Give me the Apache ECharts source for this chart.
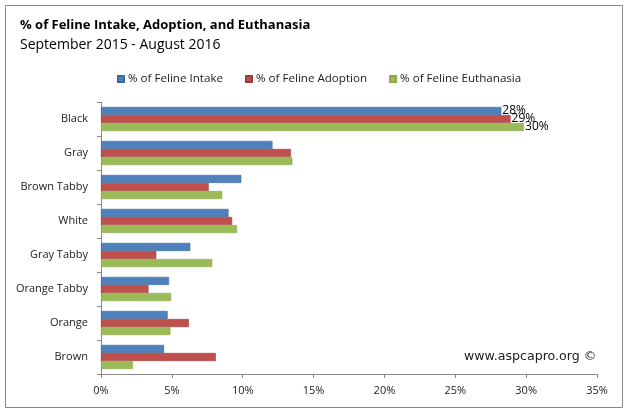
<!DOCTYPE html>
<html><head><meta charset="utf-8">
<script src="https://cdn.jsdelivr.net/npm/echarts@6/dist/echarts.min.js"></script>
<style>html,body{margin:0;padding:0;background:#fff}#c{width:630px;height:413px}</style>
</head><body><div id="c"></div>
<script>
const categories = ["Black","Gray","Brown Tabby","White","Gray Tabby","Orange Tabby","Orange","Brown"];
const seriesNames = ["% of Feline Intake","% of Feline Adoption","% of Feline Euthanasia"];
const intake = [28.25, 12.1, 9.9, 9.0, 6.3, 4.8, 4.7, 4.45];
const adoption = [28.9, 13.4, 7.6, 9.25, 3.9, 3.35, 6.2, 8.1];
const euthanasia = [29.85, 13.5, 8.55, 9.6, 7.85, 4.95, 4.9, 2.25];
const xTicks = [0,5,10,15,20,25,30,35];
const labeledCategory = "Black";

const colors = ["#4F81BD","#C0504D","#9BBB59"];
const borders = ["#3d6a9e","#9e3b38","#8aa94c"];
const font = "'Open Sans', 'Noto Sans', sans-serif";
const chart = echarts.init(document.getElementById('c'), null, {renderer:'canvas'});

function mk(name, vals, i){
  return {
    name, type:'bar', barGap:'0%', barCategoryGap:'29%',
    itemStyle:{color:colors[i], borderColor:borders[i], borderWidth:0.6},
    data: vals.map((v,j)=>({value:v, label:{show: categories[j]===labeledCategory}})),
    label:{position:'right', distance:1, color:'#000', fontFamily:font, fontSize:12,
      formatter:p=>Math.round(p.value)+'%'}
  };
}

chart.setOption({
  animation:false,
  title:[
    {text:"% of Feline Intake, Adoption, and Euthanasia", left:15, top:14,
      textStyle:{fontFamily:font, fontSize:13, fontWeight:'bold', color:'#000'}},
    {text:"September 2015 - August 2016", left:15, top:33,
      textStyle:{fontFamily:font, fontSize:14, fontWeight:'normal', color:'#000'}}
  ],
  legend:{
    data:seriesNames, top:68, left:112, itemWidth:6, itemHeight:6, itemGap:22,
    icon:'rect',
    textStyle:{fontFamily:font, fontSize:11.6, color:'#222', padding:[0,0,0,-1]}
  },
  grid:{left:101, right:33, top:102, bottom:39, containLabel:false},
  xAxis:{
    type:'value', min:0, max:35, interval:5,
    axisLine:{show:true, lineStyle:{color:'#888'}},
    axisTick:{show:true, length:4, inside:false, lineStyle:{color:'#888'}},
    splitLine:{show:false},
    axisLabel:{formatter:'{value}%', fontFamily:font, fontSize:11, color:'#222', margin:11,
      customValues: xTicks}
  },
  yAxis:{
    type:'category', data:categories, inverse:true,
    axisLine:{show:true, lineStyle:{color:'#888'}},
    axisTick:{show:true, length:4, lineStyle:{color:'#888'}},
    axisLabel:{fontFamily:font, fontSize:11, color:'#222', margin:13}
  },
  series:[mk(seriesNames[0],intake,0), mk(seriesNames[1],adoption,1), mk(seriesNames[2],euthanasia,2)],
  graphic:[
    {type:'rect', shape:{x:5.5,y:5.5,width:617,height:402}, style:{fill:null, stroke:'#888', lineWidth:1}, silent:true},
    {type:'text', left:464, top:350, style:{text:'www.aspcapro.org ©', font:"12.6px 'DejaVu Sans', sans-serif", fill:'#222'}}
  ]
});
</script></body></html>
